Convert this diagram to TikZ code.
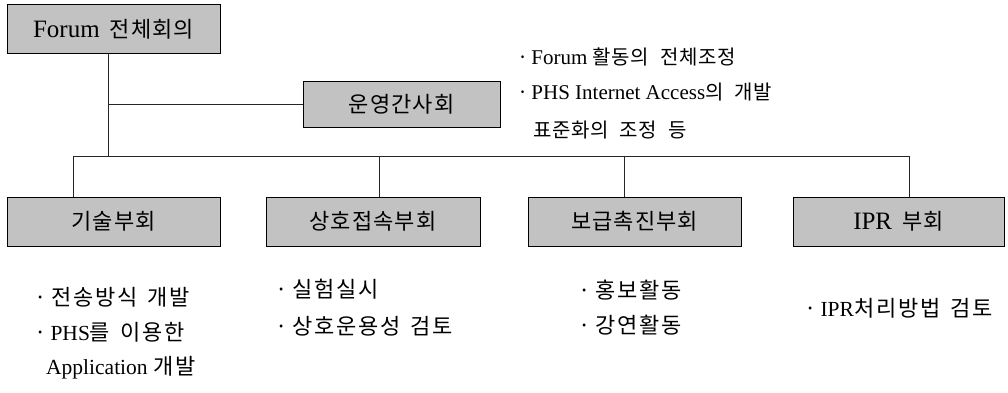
\documentclass[tikz,border=0pt]{standalone}
\usepackage{fontspec}
\setmainfont{Liberation Serif}
\newfontfamily\krA[LetterSpace=5,WordSpace=2]{Noto Sans CJK KR}
\newfontfamily\krB[LetterSpace=3,WordSpace=2.2]{Noto Sans CJK KR}
\newfontfamily\krC[LetterSpace=8,WordSpace=1.5]{Noto Sans CJK KR}
\newcommand\kbox[1]{{\krA\fontsize{22}{26}\selectfont #1}}
\newcommand\knote[1]{{\krB\fontsize{20}{24}\selectfont #1}}
\newcommand\klist[1]{{\krC\fontsize{22}{26}\selectfont #1}}
\begin{document}
\begin{tikzpicture}[x=1pt,y=-1pt,
  box/.style={draw=black, line width=0.9pt, fill=black!24, inner sep=0pt, minimum height=49pt, font=\fontsize{25}{28}\selectfont},
  conn/.style={draw=black!85, line width=0.9pt},
  note/.style={anchor=west, inner sep=0pt, font=\fontsize{21}{24}\selectfont},
  item/.style={anchor=west, inner sep=0pt, font=\fontsize{21.5}{24}\selectfont}]
\useasboundingbox (0,0) rectangle (1008,392);
\fill[white] (0,0) rectangle (1008,392);
% boxes
\node[box, minimum width=213pt] (forum) at (113.5,29) {Forum\hspace{10pt}\kbox{전체회의}};
\node[box, minimum width=197pt, minimum height=46pt] (unyoung) at (401.5,104) {\kbox{운영간사회}};
\node[box, minimum width=213pt] (gisul) at (113.5,221.5) {\kbox{기술부회}};
\node[box, minimum width=214pt] (sangho) at (373,221.5) {\kbox{상호접속부회}};
\node[box, minimum width=213pt] (bogeup) at (634.5,221.5) {\kbox{보급촉진부회}};
\node[box, minimum width=211pt] (ipr) at (898.5,221.5) {IPR\hspace{10pt}\kbox{부회}};
% junctions
\coordinate (v1) at (108,104);
\coordinate (v2) at (108,156);
\coordinate (d1) at (73,156);
\coordinate (d2) at (379,156);
\coordinate (d3) at (624,156);
\coordinate (d4) at (909,156);
\draw[conn] (forum.south -| v1) -- (v2);
\draw[conn] (v1) -- (unyoung.west);
\draw[conn] (d1) -- (d4);
\draw[conn] (d1) -- (d1 |- gisul.north);
\draw[conn] (d2) -- (d2 |- sangho.north);
\draw[conn] (d3) -- (d3 |- bogeup.north);
\draw[conn] (d4) -- (d4 |- ipr.north);
% notes top right
\node[note] (n1) at (517,57) {\knote{·}\hspace{3pt}Forum \knote{활동의 전체조정}};
\node[note] (n2) at (517,92) {\knote{·}\hspace{3pt}PHS Internet Access\knote{의 개발}};
\node[note] (n3) at (533,130) {\knote{표준화의 조정 등}};
% lists
\node[item] (a1) at (34,297) {\klist{·\hspace{5pt}전송방식 개발}};
\node[item] (a2) at (34,332) {\klist{·}\hspace{4pt}PHS\klist{를 이용한}};
\node[item] (a3) at (46,368) {Application \klist{개발}};
\node[item] (b1) at (275,289) {\klist{·\hspace{5pt}실험실시}};
\node[item] (b2) at (275,326) {\klist{·\hspace{5pt}상호운용성 검토}};
\node[item] (c1) at (578,290) {\klist{·\hspace{5pt}홍보활동}};
\node[item] (c2) at (578,325) {\klist{·\hspace{5pt}강연활동}};
\node[item] (e1) at (804,308) {\klist{·}\hspace{4pt}IPR\klist{처리방법 검토}};
\end{tikzpicture}
\end{document}
